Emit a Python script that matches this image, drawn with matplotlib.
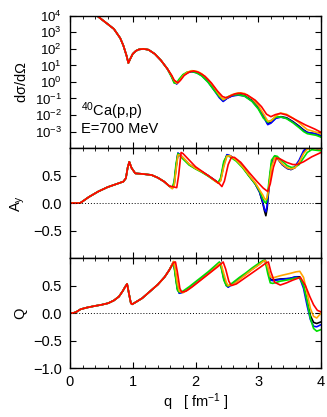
import numpy as np
import matplotlib.pyplot as plt
from matplotlib.ticker import MultipleLocator, FixedLocator, NullLocator

plt.rcParams['font.family'] = ['Liberation Sans', 'DejaVu Sans']
plt.rcParams['mathtext.fontset'] = 'custom'
plt.rcParams['mathtext.rm'] = 'Liberation Sans'
plt.rcParams['mathtext.it'] = 'Liberation Sans'
plt.rcParams['font.size'] = 10.5

colors = ['black', 'blue', '#00e000', 'orange', 'red']
names = ['black', 'blue', 'green', 'orange', 'red']

# ---- cross section (common low-q part + tails) ----
xs_head_q = [0.0, 0.1, 0.2, 0.3, 0.4, 0.5, 0.6, 0.7, 0.8, 0.85, 0.9, 0.93, 0.96, 1.0, 1.05, 1.1, 1.17, 1.25, 1.35, 1.45, 1.55]
xs_head = [2.0e5, 1.6e5, 1.0e5, 4.0e4, 1.26e4, 6.3e3, 3.2e3, 1.6e3, 4.5e2, 1.6e2, 40, 14, 25, 50, 76, 93, 100, 89, 50, 20, 6.3]

xs_tail_q = [1.62, 1.66, 1.70, 1.74, 1.80, 1.87, 1.94, 2.02, 2.10, 2.20, 2.30, 2.38, 2.44, 2.50, 2.58, 2.68,
             2.78, 2.90, 3.00, 3.08, 3.15, 3.20, 3.28, 3.36, 3.45, 3.55, 3.65, 3.72, 3.78, 3.85, 3.92, 4.00]
xs_black = [2.2, 1.0, 0.79, 1.26, 2.5, 3.8, 4.4, 3.8, 2.6, 1.12, 0.35, 0.126, 0.071, 0.105, 0.148, 0.17,
            0.151, 0.076, 0.028, 8.9e-3, 3.0e-3, 3.5e-3, 6.8e-3, 7.9e-3, 6.8e-3, 4.0e-3, 2.1e-3, 1.26e-3, 8.9e-4, 7.9e-4, 7.1e-4, 5.2e-4]
xs_blue = [2.1, 0.95, 0.76, 1.2, 2.4, 3.6, 4.2, 3.6, 2.4, 1.0, 0.3, 0.11, 0.066, 0.1, 0.14, 0.16,
           0.14, 0.07, 0.025, 8.0e-3, 2.6e-3, 3.2e-3, 6.3e-3, 7.4e-3, 6.3e-3, 3.7e-3, 1.9e-3, 1.15e-3, 8.5e-4, 8.0e-4, 7.2e-4, 5.6e-4]
xs_green = [1.9, 0.85, 0.9, 1.5, 2.8, 4.0, 4.3, 3.5, 2.3, 0.95, 0.3, 0.13, 0.085, 0.12, 0.16, 0.17,
            0.14, 0.066, 0.023, 6.5e-3, 3.7e-3, 4.6e-3, 7.4e-3, 7.6e-3, 6.0e-3, 3.4e-3, 1.7e-3, 1.0e-3, 7.4e-4, 6.6e-4, 5.9e-4, 4.5e-4]
xs_orange = [2.4, 1.2, 0.85, 1.1, 2.3, 3.9, 4.8, 4.4, 3.1, 1.4, 0.45, 0.16, 0.085, 0.11, 0.17, 0.22,
             0.2, 0.1, 0.038, 0.012, 4.3e-3, 4.3e-3, 8.9e-3, 0.013, 0.011, 6.5e-3, 3.4e-3, 2.0e-3, 1.3e-3, 1.1e-3, 9.0e-4, 7.1e-4]
xs_red_q = [1.62, 1.66, 1.72, 1.76, 1.82, 1.90, 1.97, 2.05, 2.15, 2.25, 2.35, 2.43, 2.49, 2.55, 2.63, 2.72,
            2.82, 2.95, 3.05, 3.13, 3.20, 3.27, 3.35, 3.45, 3.60, 3.75, 3.90, 4.00]
xs_red = [2.5, 1.26, 0.89, 1.26, 2.5, 4.0, 4.6, 3.8, 2.2, 0.89, 0.28, 0.13, 0.11, 0.14, 0.19, 0.21,
          0.166, 0.079, 0.032, 0.0112, 7.9e-3, 0.0105, 0.0126, 0.01, 5.0e-3, 2.5e-3, 1.4e-3, 8.9e-4]

# ---- analyzing power Ay ----
ay_head_q = [0.0, 0.10, 0.16, 0.20, 0.30, 0.45, 0.60, 0.75, 0.85, 0.89, 0.92, 0.945, 0.98, 1.04, 1.15, 1.30, 1.40, 1.50, 1.58]
ay_head = [0.0, 0.0, 0.0, 0.03, 0.11, 0.21, 0.29, 0.35, 0.39, 0.45, 0.65, 0.75, 0.64, 0.54, 0.53, 0.51, 0.46, 0.39, 0.31]

ay_tail_q = [1.63, 1.66, 1.69, 1.72, 1.75, 1.80, 1.90, 2.00, 2.10, 2.20, 2.30, 2.36, 2.40, 2.45, 2.50, 2.55, 2.65,
             2.75, 2.85, 2.95, 3.02, 3.07, 3.10, 3.12, 3.14, 3.17, 3.21, 3.26, 3.30, 3.38, 3.46, 3.52, 3.58,
             3.65, 3.72, 3.78, 3.85, 3.92, 4.00]
ay_black = [0.27, 0.35, 0.65, 0.90, 0.88, 0.82, 0.70, 0.63, 0.57, 0.50, 0.42, 0.37, 0.42, 0.70, 0.87, 0.86, 0.78,
            0.66, 0.50, 0.35, 0.20, 0.0, -0.15, -0.23, -0.10, 0.30, 0.70, 0.85, 0.82, 0.70, 0.63, 0.61, 0.64,
            0.75, 0.92, 1.0, 1.02, 1.0, 0.96]
ay_blue = [0.27, 0.36, 0.67, 0.91, 0.88, 0.82, 0.70, 0.63, 0.57, 0.50, 0.42, 0.37, 0.43, 0.72, 0.88, 0.86, 0.78,
           0.66, 0.50, 0.35, 0.20, 0.02, -0.12, -0.16, -0.05, 0.32, 0.72, 0.85, 0.82, 0.70, 0.63, 0.61, 0.66,
           0.78, 0.95, 1.02, 1.03, 0.99, 0.96]
ay_green = [0.28, 0.40, 0.72, 0.90, 0.86, 0.80, 0.69, 0.62, 0.56, 0.49, 0.41, 0.37, 0.46, 0.76, 0.86, 0.84, 0.76,
            0.64, 0.49, 0.35, 0.22, 0.08, 0.02, 0.0, 0.08, 0.40, 0.78, 0.86, 0.85, 0.76, 0.68, 0.65, 0.65,
            0.70, 0.82, 0.92, 0.97, 0.96, 0.95]
ay_orange = [0.26, 0.32, 0.60, 0.87, 0.88, 0.83, 0.71, 0.63, 0.57, 0.50, 0.41, 0.36, 0.40, 0.66, 0.85, 0.86, 0.78,
             0.66, 0.51, 0.37, 0.24, 0.15, 0.08, 0.06, 0.10, 0.30, 0.65, 0.82, 0.82, 0.71, 0.64, 0.62, 0.64,
             0.74, 0.90, 0.98, 1.0, 0.99, 0.98]
ay_red_q = [1.63, 1.70, 1.73, 1.77, 1.80, 1.90, 2.00, 2.10, 2.20, 2.30, 2.38, 2.42, 2.46, 2.52, 2.57, 2.62,
            2.72, 2.85, 2.98, 3.08, 3.15, 3.19, 3.24, 3.29, 3.35, 3.45, 3.55, 3.62, 3.72, 3.85, 4.00]
ay_red = [0.30, 0.28, 0.50, 0.92, 0.90, 0.78, 0.66, 0.58, 0.50, 0.42, 0.35, 0.30, 0.40, 0.70, 0.83, 0.83,
          0.74, 0.56, 0.39, 0.27, 0.21, 0.35, 0.65, 0.82, 0.80, 0.74, 0.70, 0.70, 0.75, 0.84, 0.92]

# ---- spin rotation Q ----
q_head_q = [0.0, 0.05, 0.10, 0.17, 0.27, 0.40, 0.50, 0.61, 0.70, 0.78, 0.84, 0.88, 0.91, 0.94, 0.97, 0.99,
            1.05, 1.15, 1.30, 1.40, 1.51, 1.58]
q_head = [0.0, 0.0, 0.02, 0.07, 0.10, 0.13, 0.15, 0.18, 0.23, 0.30, 0.40, 0.48, 0.53, 0.35, 0.18, 0.16,
          0.20, 0.27, 0.42, 0.52, 0.66, 0.78]

q_tail_q = [1.65, 1.68, 1.71, 1.74, 1.80, 1.90, 2.00, 2.10, 2.20, 2.30, 2.38, 2.41, 2.45, 2.49, 2.52, 2.60, 2.70,
            2.80, 2.90, 3.00, 3.08, 3.11, 3.15, 3.19, 3.23, 3.35, 3.50, 3.60, 3.66, 3.72, 3.78, 3.83, 3.88,
            3.93, 4.00]
q_black = [0.93, 0.70, 0.45, 0.37, 0.38, 0.46, 0.55, 0.64, 0.73, 0.83, 0.92, 0.85, 0.65, 0.52, 0.48, 0.54, 0.63,
           0.71, 0.80, 0.88, 0.95, 0.96, 0.80, 0.62, 0.60, 0.62, 0.63, 0.66, 0.66, 0.50, 0.20, -0.05, -0.17,
           -0.19, -0.16]
q_blue = [0.93, 0.70, 0.45, 0.36, 0.38, 0.46, 0.55, 0.64, 0.73, 0.83, 0.92, 0.84, 0.63, 0.50, 0.47, 0.54, 0.63,
          0.71, 0.80, 0.88, 0.95, 0.96, 0.78, 0.60, 0.59, 0.61, 0.63, 0.66, 0.64, 0.45, 0.12, -0.12, -0.24,
          -0.25, -0.21]
q_green = [0.92, 0.66, 0.42, 0.38, 0.40, 0.48, 0.57, 0.66, 0.75, 0.85, 0.93, 0.82, 0.60, 0.50, 0.49, 0.56, 0.65,
           0.73, 0.82, 0.90, 0.96, 0.94, 0.72, 0.55, 0.54, 0.58, 0.61, 0.64, 0.64, 0.50, 0.20, -0.10, -0.28,
           -0.33, -0.30]
q_orange = [0.94, 0.78, 0.55, 0.40, 0.37, 0.44, 0.53, 0.62, 0.71, 0.81, 0.90, 0.88, 0.72, 0.56, 0.50, 0.52, 0.61,
            0.70, 0.79, 0.87, 0.94, 0.96, 0.84, 0.66, 0.64, 0.68, 0.72, 0.75, 0.76, 0.65, 0.35, 0.08, -0.06,
            -0.09, 0.0]
q_red_q = [1.65, 1.68, 1.71, 1.75, 1.78, 1.85, 1.95, 2.05, 2.15, 2.25, 2.35, 2.44, 2.48, 2.53, 2.57, 2.65, 2.75,
           2.85, 2.95, 3.05, 3.12, 3.16, 3.20, 3.26, 3.35, 3.45, 3.55, 3.67, 3.75, 3.82, 3.88, 3.94, 4.00]
q_red = [0.92, 0.93, 0.75, 0.45, 0.38, 0.40, 0.48, 0.57, 0.66, 0.75, 0.84, 0.93, 0.80, 0.58, 0.50, 0.53, 0.61,
         0.69, 0.77, 0.85, 0.91, 0.93, 0.75, 0.56, 0.51, 0.55, 0.60, 0.65, 0.50, 0.30, 0.15, 0.05, 0.02]

xs_tails = [(xs_tail_q, xs_black), (xs_tail_q, xs_blue), (xs_tail_q, xs_green), (xs_tail_q, xs_orange), (xs_red_q, xs_red)]
ay_tails = [(ay_tail_q, ay_black), (ay_tail_q, ay_blue), (ay_tail_q, ay_green), (ay_tail_q, ay_orange), (ay_red_q, ay_red)]
q_tails = [(q_tail_q, q_black), (q_tail_q, q_blue), (q_tail_q, q_green), (q_tail_q, q_orange), (q_red_q, q_red)]

fig = plt.figure(figsize=(3.27, 4.17), dpi=100)
ax1 = fig.add_axes([0.214, 0.645, 0.768, 0.317])
ax2 = fig.add_axes([0.214, 0.381, 0.768, 0.264], sharex=ax1)
ax3 = fig.add_axes([0.214, 0.1175, 0.768, 0.2635], sharex=ax1)

for i in range(5):
    tq, tv = xs_tails[i]
    ax1.plot(xs_head_q + tq, xs_head + tv, color=colors[i], lw=1.2)
    tq, tv = ay_tails[i]
    ax2.plot(ay_head_q + tq, ay_head + tv, color=colors[i], lw=1.2)
    tq, tv = q_tails[i]
    ax3.plot(q_head_q + tq, q_head + tv, color=colors[i], lw=1.2)

ax1.set_yscale('log')
ax1.set_ylim(1e-4, 1e4)
ax1.yaxis.set_major_locator(FixedLocator([1e-3, 1e-2, 1e-1, 1, 10, 100, 1e3, 1e4]))
ax1.set_yticklabels(['10$^{-3}$', '10$^{-2}$', '10$^{-1}$', '10$^{0}$', '10$^{1}$', '10$^{2}$', '10$^{3}$', '10$^{4}$'],
                    fontsize=9.5)
ax1.yaxis.set_minor_locator(NullLocator())
ax1.set_ylabel(r'd$\sigma$/d$\Omega$', labelpad=4)
ax1.text(0.18, 9e-3, '$^{40}$Ca(p,p)', fontsize=10.5)
ax1.text(0.18, 8e-4, 'E=700 MeV', fontsize=10.5)

for ax in (ax2, ax3):
    ax.set_ylim(-1, 1)
    ax.axhline(0, color='black', ls=(0, (1, 2)), lw=0.7)
ax2.set_yticks([-0.5, 0.0, 0.5])
ax3.set_yticks([-1.0, -0.5, 0.0, 0.5])
ax2.set_ylabel('A$_y$', labelpad=4)
ax3.set_ylabel('Q', labelpad=4)

ax3.set_xlim(0, 4)
ax3.xaxis.set_major_locator(MultipleLocator(1))
ax3.xaxis.set_minor_locator(MultipleLocator(0.2))
ax3.set_xlabel('q   [ fm$^{-1}$ ]', labelpad=2)

for ax in (ax1, ax2, ax3):
    ax.tick_params(which='both', direction='in', top=True, right=True)
    ax.tick_params(which='major', length=4, width=0.8, pad=6)
    ax.tick_params(which='minor', length=2, width=0.6)
    for s in ax.spines.values():
        s.set_linewidth(1.0)
for ax in (ax1, ax2):
    ax.tick_params(labelbottom=False)
ax3.tick_params(axis='x', pad=5)

fig.savefig('out.png', dpi=100)
